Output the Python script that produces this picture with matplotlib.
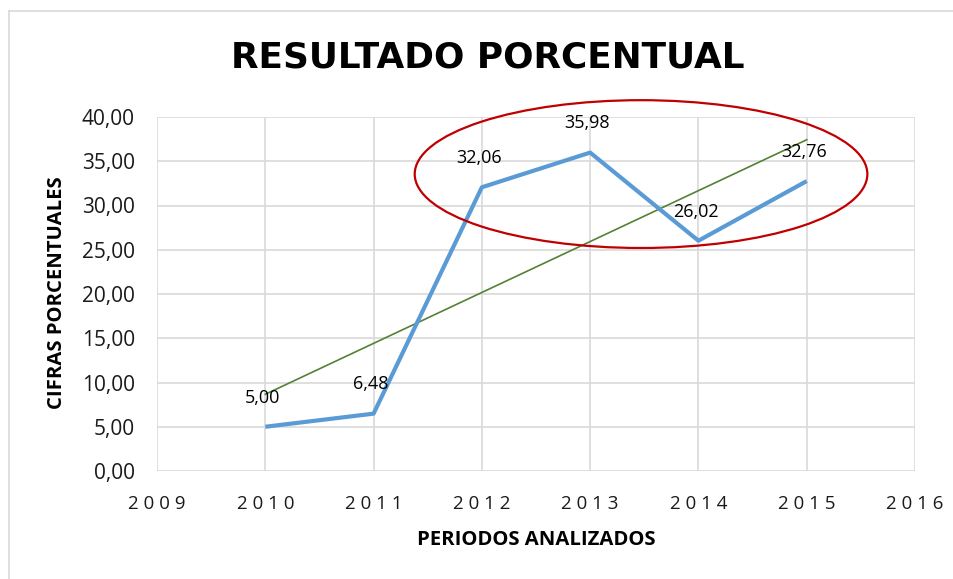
import numpy as np
import matplotlib
matplotlib.use("Agg")
import matplotlib.pyplot as plt
from matplotlib.patches import Ellipse
from matplotlib.lines import Line2D

years = [2010, 2011, 2012, 2013, 2014, 2015]
values = [5.00, 6.48, 32.06, 35.98, 26.02, 32.76]
labels = ["5,00", "6,48", "32,06", "35,98", "26,02", "32,76"]
x_ticks = [2009, 2010, 2011, 2012, 2013, 2014, 2015, 2016]
y_ticks = [0, 5, 10, 15, 20, 25, 30, 35, 40]
title = "RESULTADO PORCENTUAL"
xlabel = "PERIODOS ANALIZADOS"
ylabel = "CIFRAS PORCENTUALES"

plt.rcParams['font.family'] = ['Open Sans', 'DejaVu Sans']

fig = plt.figure(figsize=(9.54, 5.79), dpi=100)
ax = fig.add_axes([157/954, 1-471/579, (915-157)/954, (471-117)/579])

ax.set_xlim(2009, 2016)
ax.set_ylim(0, 40)
ax.set_xticks(x_ticks)
ax.set_xticklabels([" ".join(str(t)) for t in x_ticks], fontsize=13.5, color='#1a1a1a')
ax.set_yticks(y_ticks)
ax.set_yticklabels([f"{t:.2f}".replace('.', ',') for t in y_ticks], fontsize=15, color='#1a1a1a')
ax.tick_params(length=0)
ax.tick_params(axis='y', pad=16)
ax.tick_params(axis='x', pad=17)
ax.grid(True, color='#D9D9D9', linewidth=1.2)
ax.set_axisbelow(True)
for s in ax.spines.values():
    s.set_visible(False)

# trend line (linear fit, like Excel)
coef = np.polyfit(years, values, 1)
tx = np.array([years[0], years[-1]])
ax.plot(tx, np.polyval(coef, tx), color='#548235', linewidth=1.2, zorder=2)

ax.plot(years, values, color='#5B9BD5', linewidth=3.0, zorder=3, solid_capstyle='butt')

for x, y, l in zip(years, values, labels):
    ax.annotate(l, (x, y), xytext=(-2, 21), textcoords='offset points',
                ha='center', va='center', fontsize=13, color='black', zorder=5)

ell = Ellipse((2013.47, 33.55), 4.18, 16.7, fill=False, edgecolor='#C00000',
              linewidth=1.6, clip_on=False, zorder=4)
ax.add_patch(ell)

fig.text(488/954, 1-58/579, title, ha='center', va='center', fontsize=25.8,
         fontweight='bold', family='DejaVu Sans', color='black')
fig.text(536/954, 1-540/579, xlabel, ha='center', va='center', fontsize=14.6,
         fontweight='bold', color='black')
fig.text(57/954, 1-293/579, ylabel, ha='center', va='center', fontsize=14.6,
         fontweight='bold', rotation=90, color='black')

# chart-area border (top and left visible)
fig.add_artist(Line2D([9/954, 1], [1-11/579, 1-11/579], color='#D9D9D9', linewidth=1.2))
fig.add_artist(Line2D([9/954, 9/954], [0, 1-11/579], color='#D9D9D9', linewidth=1.2))

fig.savefig("out.png", dpi=100)
